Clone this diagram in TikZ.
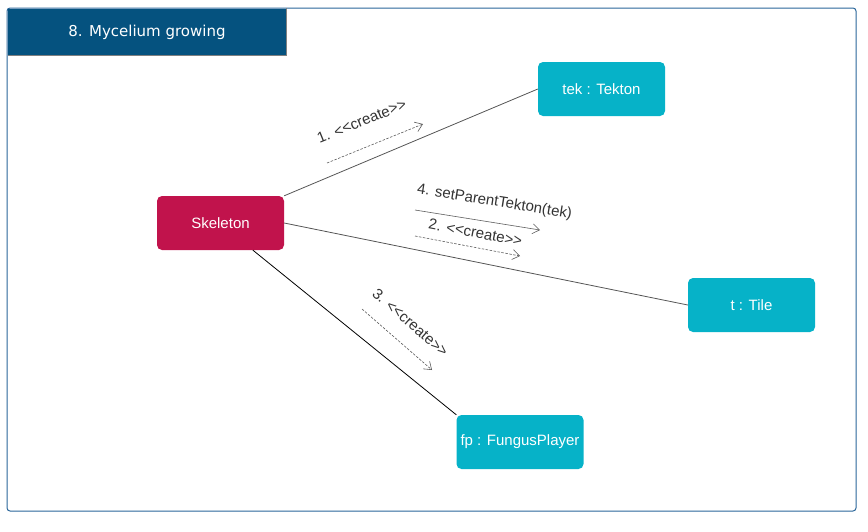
\documentclass[tikz,border=0pt]{standalone}
\usepackage{fontspec}
\setmainfont{Liberation Sans}
\newfontfamily\tabfont{DejaVu Sans}
\usetikzlibrary{arrows.meta,calc}

\definecolor{tabblue}{HTML}{05527F}
\definecolor{frameblue}{HTML}{2A669A}
\definecolor{objcyan}{HTML}{06B2C8}
\definecolor{actorred}{HTML}{C1134C}
\definecolor{linkgray}{HTML}{555555}
\definecolor{msggray}{HTML}{5A5A5A}

\begin{document}
\begin{tikzpicture}[x=1pt,y=-1pt,
	obj/.style={rectangle, rounded corners=5pt, fill=objcyan, text=white, minimum width=127pt, minimum height=54pt, inner sep=0pt, font=\fontsize{15}{18}\selectfont},
	link/.style={draw=linkgray, line width=0.8pt},
	msg/.style={draw=msggray, line width=0.6pt, -{Straight Barb[length=7pt,width=10pt]}},
	call/.style={msg},
	create/.style={msg, dash pattern=on 2.5pt off 1.5pt},
	lbl/.style={sloped, anchor=south, inner sep=0pt, text=black!80, font=\fontsize{15}{18}\selectfont}
	]
	\useasboundingbox (0,0) rectangle (868,531);
	\draw[frameblue, line width=1pt, rounded corners=3pt] (7,8) rectangle (856,511);
	
	% diagram tab
	\node[fill=tabblue, text=white, minimum width=278pt, minimum height=47pt, inner sep=0pt, font=\tabfont\fontsize{15}{18}\selectfont] (tab) at (147,32) {8. Mycelium growing};
	\draw[gray, line width=1pt] (tab.north east) -- (tab.south east) -- (tab.south west);
	
	% objects
	\node[obj, fill=actorred] (skel) at (220.5,223) {Skeleton};
	\node[obj] (tek) at (601.5,89) {tek : Tekton};
	\node[obj] (tile) at (751.5,305) {t : Tile};
	\node[obj] (fp) at (520,442) {fp : FungusPlayer};
	
	% links
	\draw[link] (skel.north east) -- (tek.west);
	\draw[link] (skel.east) -- (tile.west);
	\draw[link, draw=black] (skel.-40) -- (fp.north west);
	
	% messages
	\coordinate (m1s) at (327,163);
	\coordinate (m1e) at (423,124);
	\coordinate (m2s) at (415,236);
	\coordinate (m2e) at (520,256);
	\coordinate (m3s) at (362,309);
	\coordinate (m3e) at (432,370);
	\coordinate (m4s) at (415,210);
	\coordinate (m4e) at (540,230);
	\draw[create] (m1s) -- node[lbl, pos=.46, above=20pt] {1. <{}<create>{}>} (m1e);
	\draw[create] (m2s) -- node[lbl, pos=.55, above=9pt] {2. <{}<create>{}>} (m2e);
	\draw[create] (m3s) -- node[lbl, pos=.49, above=16pt] {3. <{}<create>{}>} (m3e);
	\draw[call] (m4s) -- node[lbl, pos=.61, above=13pt] {4. setParentTekton(tek)} (m4e);
\end{tikzpicture}
\end{document}
